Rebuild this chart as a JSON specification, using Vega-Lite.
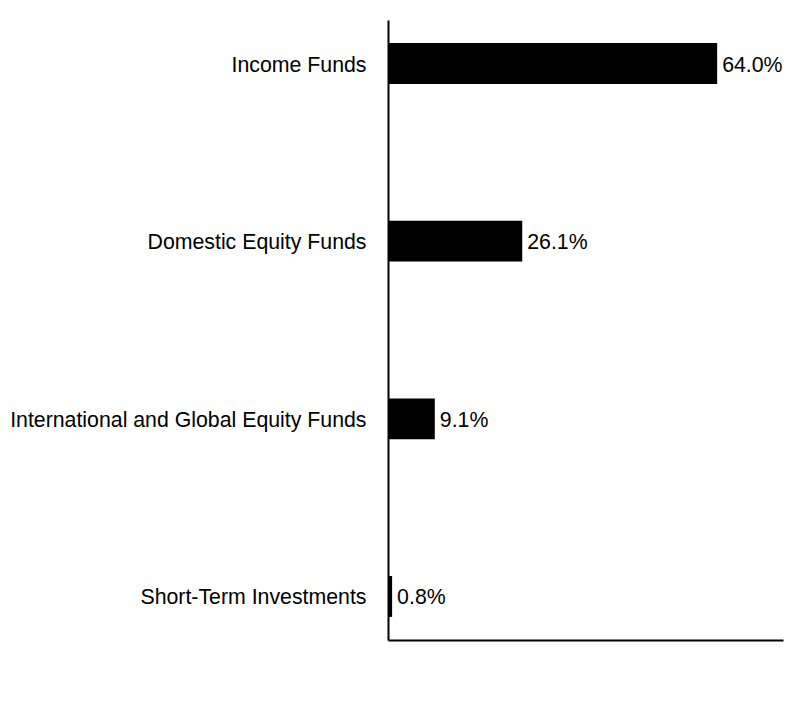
{
  "$schema": "https://vega.github.io/schema/vega-lite/v6.json",
  "autosize": "none",
  "width": 395,
  "height": 620,
  "padding": {"left": 388, "top": 20, "right": 21, "bottom": 80},
  "background": "white",
  "data": {
    "values": [
      {"Category": "Income Funds", "Share": 0.640},
      {"Category": "Domestic Equity Funds", "Share": 0.261},
      {"Category": "International and Global Equity Funds", "Share": 0.091},
      {"Category": "Short-Term Investments", "Share": 0.008}
    ]
  },
  "encoding": {
    "y": {
      "field": "Category",
      "type": "nominal",
      "sort": null,
      "title": null,
      "scale": {"paddingInner": 0.77, "paddingOuter": 0.13},
      "axis": {
        "ticks": false,
        "labelPadding": 22,
        "labelFont": "Liberation Sans",
        "labelFontSize": 21.3,
        "labelColor": "black",
        "labelLimit": 0,
        "labelOffset": 2,
        "domainColor": "black",
        "domainWidth": 2
      }
    },
    "x": {
      "field": "Share",
      "type": "quantitative",
      "title": null,
      "scale": {"domain": [0, 0.768], "nice": false},
      "axis": {
        "labels": false,
        "ticks": false,
        "grid": false,
        "domainColor": "black",
        "domainWidth": 2
      }
    }
  },
  "layer": [
    {"mark": {"type": "bar", "color": "black"}},
    {
      "mark": {
        "type": "text",
        "align": "left",
        "dx": 5,
        "dy": 2,
        "font": "Liberation Sans",
        "fontSize": 21.3,
        "color": "black"
      },
      "encoding": {
        "text": {"field": "Share", "type": "quantitative", "format": ".1%"}
      }
    }
  ],
  "config": {"view": {"stroke": null}}
}
